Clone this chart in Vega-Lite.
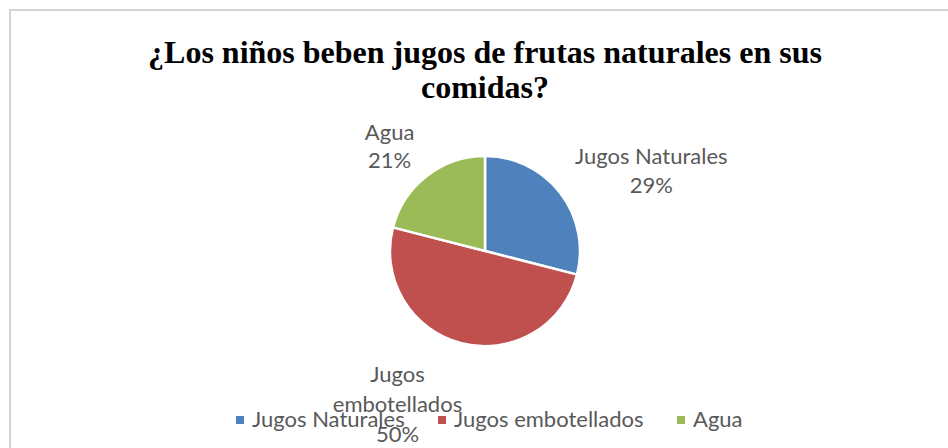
{
  "$schema": "https://vega.github.io/schema/vega-lite/v6.json",
  "autosize": {"type": "none"},
  "width": 950,
  "height": 482,
  "padding": {"left": 10, "top": 10, "right": -12, "bottom": -44},
  "background": "white",
  "view": {"stroke": "#D4D4D4", "strokeWidth": 2},
  "config": {
    "view": {"stroke": "#D4D4D4", "strokeWidth": 2},
    "font": "Lato"
  },
  "title": {
    "text": ["¿Los niños beben jugos de frutas naturales en sus", "comidas?"],
    "font": "Liberation Serif",
    "fontSize": 32,
    "fontWeight": "bold",
    "color": "#000000",
    "lineHeight": 35,
    "anchor": "middle",
    "offset": -95
  },
  "data": {
    "values": [
      {"categoria": "Jugos Naturales", "valor": 29, "orden": 1},
      {"categoria": "Jugos embotellados", "valor": 50, "orden": 2},
      {"categoria": "Agua", "valor": 21, "orden": 3}
    ]
  },
  "layer": [
    {
      "mark": {"type": "arc", "outerRadius": 95, "stroke": "#FFFFFF", "strokeWidth": 2.5},
      "encoding": {
        "theta": {"field": "valor", "type": "quantitative", "stack": true},
        "order": {"field": "orden", "type": "quantitative"},
        "color": {
          "field": "categoria",
          "type": "nominal",
          "scale": {
            "domain": ["Jugos Naturales", "Jugos embotellados", "Agua"],
            "range": ["#4F81BD", "#C0504D", "#9BBB59"]
          },
          "legend": {
            "title": null,
            "orient": "none",
            "direction": "horizontal",
            "legendX": 219,
            "legendY": 399,
            "symbolType": "square",
            "symbolSize": 64,
            "symbolStrokeWidth": 0,
            "labelFont": "Lato",
            "labelFontSize": 22,
            "labelColor": "#595959",
            "labelOffset": 1,
            "labelLimit": 400,
            "columnPadding": 26,
            "padding": 0
          }
        }
      }
    },
    {
      "transform": [
        {"stack": "valor", "groupby": [], "sort": [{"field": "orden"}], "as": ["v0", "v1"]},
        {"calculate": "(datum.v0 + datum.v1) / 2", "as": "medio"},
        {"calculate": "datum.categoria + '|' + datum.valor + '%'", "as": "etiqueta"},
        {"filter": "datum.categoria === 'Jugos Naturales'"}
      ],
      "mark": {"type": "text", "radius": 180, "dx": 24, "dy": 16, "align": "center", "baseline": "middle", "font": "Lato", "fontSize": 22, "fill": "#595959", "lineBreak": "|", "lineHeight": 29},
      "encoding": {
        "theta": {"field": "medio", "type": "quantitative", "stack": null},
        "text": {"field": "etiqueta", "type": "nominal"}
      }
    },
    {
      "transform": [
        {"stack": "valor", "groupby": [], "sort": [{"field": "orden"}], "as": ["v0", "v1"]},
        {"calculate": "(datum.v0 + datum.v1) / 2", "as": "medio"},
        {"calculate": "replace(datum.categoria, ' ', '|') + '|' + datum.valor + '%'", "as": "etiqueta"},
        {"filter": "datum.categoria === 'Jugos embotellados'"}
      ],
      "mark": {"type": "text", "radius": 171, "dx": -45, "dy": -42, "align": "center", "baseline": "middle", "font": "Lato", "fontSize": 22, "fill": "#595959", "lineBreak": "|", "lineHeight": 30},
      "encoding": {
        "theta": {"field": "medio", "type": "quantitative", "stack": null},
        "text": {"field": "etiqueta", "type": "nominal"}
      }
    },
    {
      "transform": [
        {"stack": "valor", "groupby": [], "sort": [{"field": "orden"}], "as": ["v0", "v1"]},
        {"calculate": "(datum.v0 + datum.v1) / 2", "as": "medio"},
        {"calculate": "datum.categoria + '|' + datum.valor + '%'", "as": "etiqueta"},
        {"filter": "datum.categoria === 'Agua'"}
      ],
      "mark": {"type": "text", "radius": 141, "dx": -9, "dy": -7, "align": "center", "baseline": "middle", "font": "Lato", "fontSize": 22, "fill": "#595959", "lineBreak": "|", "lineHeight": 28},
      "encoding": {
        "theta": {"field": "medio", "type": "quantitative", "stack": null},
        "text": {"field": "etiqueta", "type": "nominal"}
      }
    }
  ]
}
